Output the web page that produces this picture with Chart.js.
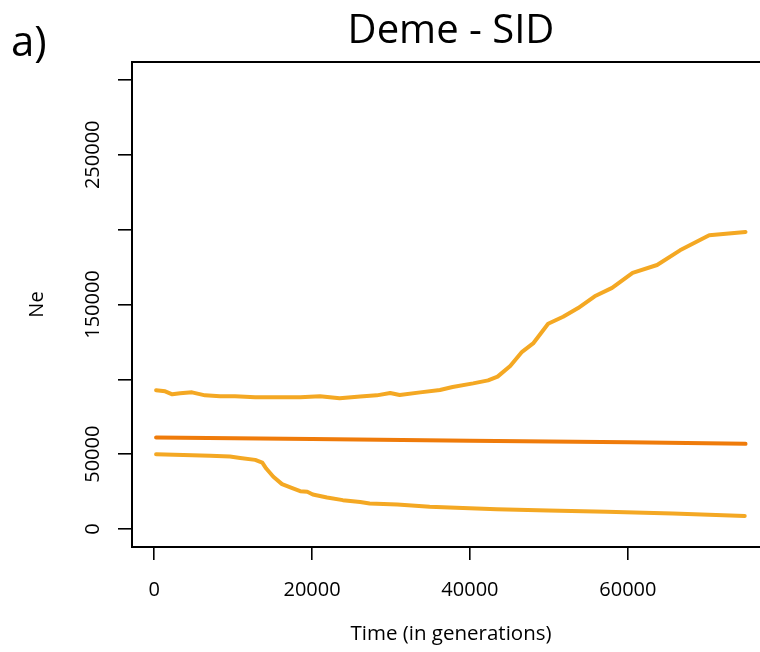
<!DOCTYPE html>
<html>
<head>
<meta charset="utf-8">
<script src="https://cdn.jsdelivr.net/npm/chart.js@4/dist/chart.umd.min.js"></script>
<style>
  html, body { margin: 0; padding: 0; background: #fff; overflow: hidden; }
  #neChart { display: block; }
</style>
</head>
<body>
<canvas id="neChart" width="800" height="652"></canvas>
<script>
// values (generations, Ne)
const upperGen = [250, 1400, 2300, 3300, 4800, 6450, 8350, 10250, 12800, 18500, 21000, 23500, 26100, 28200, 29900, 31100, 33700, 36200, 37800, 40400, 42300, 43500, 45100, 46600, 48000, 49900, 51800, 53700, 55800, 58000, 60600, 63700, 66600, 70300, 74900];
const upperNe = [92700, 92000, 90000, 90700, 91300, 89300, 88700, 88700, 88000, 88000, 88700, 87300, 88500, 89300, 90900, 89500, 91300, 92900, 94900, 97300, 99300, 101800, 108900, 118400, 124000, 137100, 141800, 147600, 155500, 161100, 171100, 176400, 186200, 196200, 198400];

const midGen = [250, 20000, 40000, 60000, 74900];
const midNe = [61200, 60200, 59000, 57900, 56900];

const lowerGen = [250, 3700, 7100, 9600, 10900, 12800, 13700, 14200, 15100, 16200, 17500, 18500, 19400, 20100, 21900, 23900, 26100, 27300, 30800, 34900, 39100, 43400, 49900, 57300, 65700, 74800];
const lowerNe = [50000, 49500, 48900, 48400, 47500, 46200, 44400, 40400, 34900, 30000, 27300, 25300, 24900, 23100, 21100, 19300, 18000, 17100, 16400, 14900, 14000, 13300, 12400, 11600, 10400, 8700];

const xTicks = [0, 20000, 40000, 60000];
const yTicks = [0, 50000, 100000, 150000, 200000, 250000, 300000];
const yLabelled = [0, 50000, 150000, 250000]; // R drops the labels that would overlap

const chartTitle = 'Deme - SID';
const panelTag = 'a)';

const yellow = '#F4A823';
const orange = '#EF7B0A';
const font = '"Open Sans", "DejaVu Sans", sans-serif';

function pts(xs, ys) { //pair up the arrays for a linear x axis
  let out = [];
  for (let i = 0; i < xs.length; i++) out.push({x: xs[i], y: ys[i]});
  return out;
}

// box round the plot + title + panel tag
const frame = {
  id: 'frame',
  afterDatasetsDraw(chart) {
    const {ctx, chartArea: a} = chart;
    ctx.save();
    ctx.strokeStyle = '#000';
    ctx.lineWidth = 2;
    ctx.strokeRect(a.left, a.top, a.right - a.left, a.bottom - a.top);
    ctx.fillStyle = '#000';
    ctx.font = '40px ' + font;
    ctx.textAlign = 'center';
    ctx.textBaseline = 'alphabetic';
    ctx.fillText(chartTitle, (a.left + a.right) / 2, 43);
    ctx.font = '42px ' + font;
    ctx.textAlign = 'left';
    ctx.fillText(panelTag, 11, 56);
    ctx.restore();
  }
};

const ctx = document.getElementById('neChart');
new Chart(ctx, {
  type: 'line',
  data: {
    datasets: [
      {data: pts(upperGen, upperNe), borderColor: yellow},
      {data: pts(midGen, midNe), borderColor: orange},
      {data: pts(lowerGen, lowerNe), borderColor: yellow}
    ]
  },
  options: {
    responsive: false,
    animation: false,
    layout: {padding: {top: 62, right: 30, left: 0, bottom: 0}},
    elements: {
      line: {borderWidth: 4, tension: 0, borderCapStyle: 'round', borderJoinStyle: 'round'},
      point: {radius: 0}
    },
    plugins: {legend: {display: false}, tooltip: {enabled: false}},
    scales: {
      x: {
        type: 'linear',
        min: -2800,
        max: 78000,
        afterFit: s => { s.height = 105; },
        afterBuildTicks: s => { s.ticks = xTicks.map(v => ({value: v})); },
        border: {display: false},
        grid: {drawOnChartArea: false, drawTicks: true, tickLength: 13, color: '#000', lineWidth: 1.6},
        ticks: {
          color: '#000', font: {family: font, size: 20}, padding: 18,
          maxRotation: 0, callback: v => String(v)
        },
        title: {display: true, text: 'Time (in generations)', color: '#000', font: {family: font, size: 20.5}, padding: {top: 0, bottom: 6}}
      },
      y: {
        min: -12000,
        max: 312000,
        afterFit: s => { s.width = 132; },
        afterBuildTicks: s => { s.ticks = yTicks.map(v => ({value: v})); },
        border: {display: false},
        grid: {drawOnChartArea: false, drawTicks: true, tickLength: 14, color: '#000', lineWidth: 1.6},
        ticks: {
          color: '#000', font: {family: font, size: 20}, padding: -10,
          minRotation: 90, maxRotation: 90, crossAlign: 'center',
          callback: v => yLabelled.includes(v) ? String(v) : ''
        },
        title: {display: true, text: 'Ne', color: '#000', font: {family: font, size: 20}, padding: {top: 25, bottom: 0}}
      }
    }
  },
  plugins: [frame]
});
</script>
</body>
</html>
